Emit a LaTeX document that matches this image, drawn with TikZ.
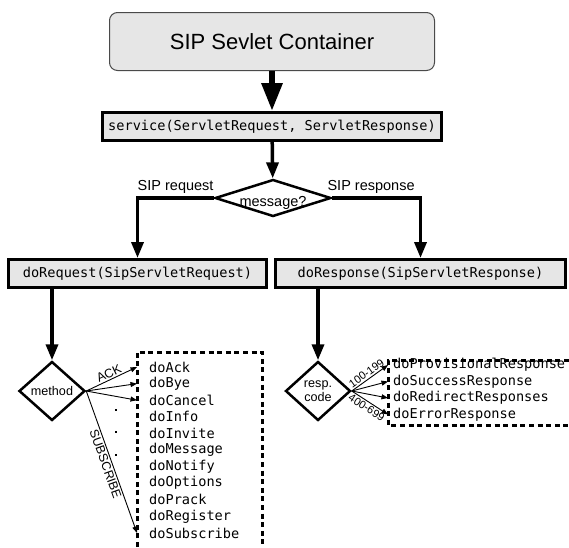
\documentclass[tikz,border=0pt]{standalone}
\usepackage{fontspec}
\setmainfont{Liberation Sans}
\setmonofont{DejaVu Sans Mono}
\usetikzlibrary{arrows.meta, positioning, shapes.geometric}
\definecolor{BoxGray}{HTML}{E6E6E6}
\definecolor{EdgeGray}{HTML}{4A4A4A}

\begin{document}
\begin{tikzpicture}[x=1pt, y=-1pt,
      container/.style={draw=EdgeGray, line width=1pt, rounded corners=8pt, fill=BoxGray,
                  minimum width=325pt, minimum height=58pt, font=\fontsize{22}{26}\selectfont},
      call/.style={draw, line width=3pt, fill=BoxGray, minimum height=28pt, inner sep=0pt,
                  font=\ttfamily\fontsize{13.6}{16}\selectfont},
      decision/.style={diamond, draw, line width=2.5pt, fill=white, inner sep=0pt, align=center},
      handler/.style={anchor=west, inner xsep=#1, inner ysep=0pt,
                  font=\ttfamily\fontsize{13.6}{16}\selectfont},
      dotbox/.style={line width=3pt, dash pattern=on 5pt off 3.6pt},
      bigarr/.style={-{Triangle[length=28pt, width=20pt]}, line width=6pt},
      arr/.style={-{Triangle[length=16pt, width=12pt]}, line width=3.5pt},
      thinarr/.style={-{Triangle[length=6.5pt, width=5pt]}, line width=0.9pt},
      lbl/.style={font=\fontsize{12.5}{14}\selectfont, inner sep=1.5pt}]
    \useasboundingbox (0,0) rectangle (569,547);

    % main path
    \node[container] (sip) at (272,41.5) {SIP Sevlet Container};
    \node[call, minimum width=339pt] (service) at (272,126.5) {service(ServletRequest, ServletResponse)};
    \node[decision, minimum width=116pt, minimum height=37pt,
          label={[name=msgtext, yshift=-4.5pt, font=\fontsize{14.5}{17}\selectfont]center:message?}] (msg) at (273,198) {};
    \node[call, minimum width=258pt] (doreq) at (137.5,273.5) {doRequest(SipServletRequest)};
    \node[call, minimum width=290pt] (dores) at (420.5,273.5) {doResponse(SipServletResponse)};

    \draw[bigarr] (sip) -- (service);
    \draw[arr] (service) -- (msg);
    \draw[arr] (msg.west) -| node[pos=.25, above, inner sep=3pt, font=\fontsize{14.5}{17}\selectfont] (reqlbl) {SIP request} (doreq.north);
    \draw[arr] (msg.east) -| node[pos=.22, above, inner sep=3pt, font=\fontsize{14.5}{17}\selectfont] (reslbl) {SIP response} (dores.north);

    % requests
    \node[decision, minimum width=66pt, minimum height=59pt, font=\fontsize{12.6}{14}\selectfont] (method) at (52,391) {method};
    \draw[arr] (method.north |- doreq.south) -- (method.north);
    \foreach \name [count=\i] in {doAck, doBye, doCancel, doInfo, doInvite, doMessage,
                                  doNotify, doOptions, doPrack, doRegister, doSubscribe}
      \node[handler=12pt] (m\i) at (137,{367+16.6*(\i-1)}) {\name};
    \draw[dotbox] (137,547) |- (262,352) -- (262,547);
    \draw[thinarr] (method.east) -- node[lbl, sloped, above] (acklbl) {ACK} (m1.west);
    \foreach \i in {2,3}
      \draw[thinarr] (method.east) -- (m\i.west);
    \draw[thinarr] (method.east) -- node[lbl, sloped, below] (sublbl) {SUBSCRIBE} (m11.west);
    \foreach \y in {409,431,454}
      \fill (115,\y) rectangle ++(2.2,2.2);

    % responses
    \node[decision, minimum width=65pt, minimum height=59pt, font=\fontsize{12.6}{13.5}\selectfont] (code) at (318,391) {resp.\\code};
    \draw[arr] (code.north |- dores.south) -- (code.north);
    \foreach \name [count=\i] in {doProvisionalResponse, doSuccessResponse,
                                  doRedirectResponses, doErrorResponse}
      \node[handler=5pt] (r\i) at (388,{365+16.5*(\i-1)}) {\name};
    \draw[dotbox] (569,360) -| (388,425) -- (569,425);
    \draw[thinarr] (code.east) -- node[lbl, sloped, above, font=\fontsize{11}{13}\selectfont] (lowlbl) {100-199} (r1.west);
    \foreach \i in {2,3}
      \draw[thinarr] (code.east) -- (r\i.west);
    \draw[thinarr] (code.east) -- node[lbl, sloped, below, font=\fontsize{11}{13}\selectfont] (highlbl) {400-699} (r4.west);
  \end{tikzpicture}
\end{document}
